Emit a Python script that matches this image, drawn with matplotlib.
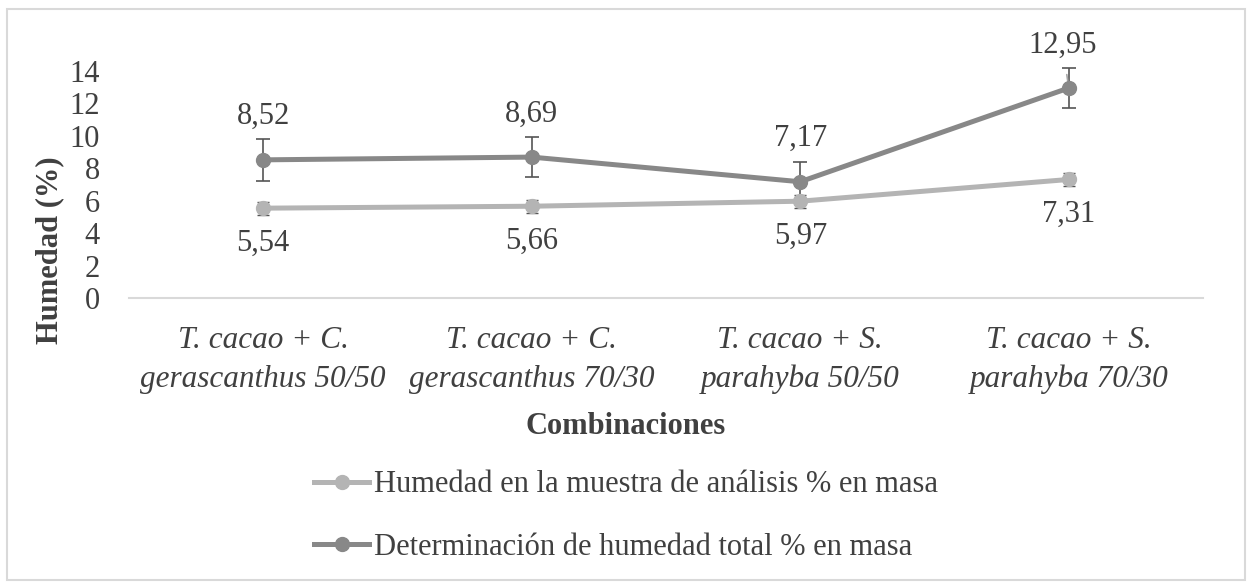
import matplotlib.pyplot as plt
from matplotlib.patches import Rectangle
from matplotlib.lines import Line2D

plt.rcParams['font.family'] = ['Liberation Serif', 'DejaVu Serif']

categories = ['T. cacao + C.\ngerascanthus 50/50', 'T. cacao + C.\ngerascanthus 70/30',
              'T. cacao + S.\nparahyba 50/50', 'T. cacao + S.\nparahyba 70/30']
muestra = [5.54, 5.66, 5.97, 7.31]
muestra_err = [0.4, 0.4, 0.4, 0.4]
total = [8.52, 8.69, 7.17, 12.95]
total_err = [1.29, 1.22, 1.24, 1.24]
names = ['Humedad en la muestra de análisis % en masa',
         'Determinación de humedad total % en masa']

light = '#b4b4b4'
dark = '#888888'
text_c = '#404040'
fs = 22

fig = plt.figure(figsize=(12.52, 5.88), dpi=100)
fig.patches.append(Rectangle((7 / 1252, 8 / 588), 1238 / 1252, 571 / 588, transform=fig.transFigure,
                             fill=False, edgecolor='#d9d9d9', linewidth=1.5))
ax = fig.add_axes([129 / 1252, 1 - 298 / 588, 1074 / 1252, 227 / 588])

x = list(range(len(categories)))
ax.errorbar(x, muestra, yerr=muestra_err, color=light, lw=3.6, marker='o', ms=10,
            ecolor='#555555', elinewidth=1, capsize=4, capthick=1, clip_on=False, zorder=3)
ax.errorbar(x, total, yerr=total_err, color=dark, lw=3.6, marker='o', ms=10,
            ecolor='#555555', elinewidth=1.2, capsize=4.7, capthick=1.2, clip_on=False, zorder=3)

for i, v in enumerate(muestra):
    ax.annotate(f'{v:.2f}'.replace('.', ','), (i, v), xytext=(0, -25), textcoords='offset points',
                ha='center', va='center', fontsize=fs, color=text_c)
for i, v in enumerate(total):
    if i == 3:
        ax.annotate(f'{v:.2f}'.replace('.', ','), (i, v), xytext=(-4.5, 31), textcoords='offset points',
                    ha='center', va='center', fontsize=fs, color=text_c,
                    arrowprops=dict(arrowstyle='-', color='#a6a6a6', lw=1.2, shrinkA=9, shrinkB=0))
    else:
        ax.annotate(f'{v:.2f}'.replace('.', ','), (i, v), xytext=(0, 31), textcoords='offset points',
                    ha='center', va='center', fontsize=fs, color=text_c)

ax.set_xlim(-0.5, 3.5)
ax.set_ylim(0, 14)
ax.set_yticks(range(0, 15, 2))
ax.set_xticks(x)
ax.set_xticklabels(categories, fontsize=fs + 0.5, style='italic', color=text_c, linespacing=1.45)
ax.tick_params(axis='y', labelsize=fs, colors=text_c, length=0, pad=21)
ax.tick_params(axis='x', length=0, pad=20)
for s in ['top', 'right', 'left']:
    ax.spines[s].set_visible(False)
ax.spines['bottom'].set_color('#d9d9d9')
ax.spines['bottom'].set_linewidth(1.5)

fig.text(50 / 1252, 1 - 250 / 588, 'Humedad (%)', rotation=90, ha='center', va='center',
         fontsize=fs, fontweight='bold', color=text_c)
fig.text(0.5, 1 - 426 / 588, 'Combinaciones', ha='center', va='center', fontsize=fs,
         fontweight='bold', color=text_c)

handles = [Line2D([], [], color=light, lw=3.6, marker='o', ms=10),
           Line2D([], [], color=dark, lw=3.6, marker='o', ms=10)]
fig.legend(handles, names, loc='center', bbox_to_anchor=(0.5, 1 - 516 / 588), ncol=1, frameon=False,
           fontsize=fs, labelcolor=text_c, handlelength=1.8, handletextpad=0.15, labelspacing=1.1)

fig.savefig('out.png', dpi=100)
